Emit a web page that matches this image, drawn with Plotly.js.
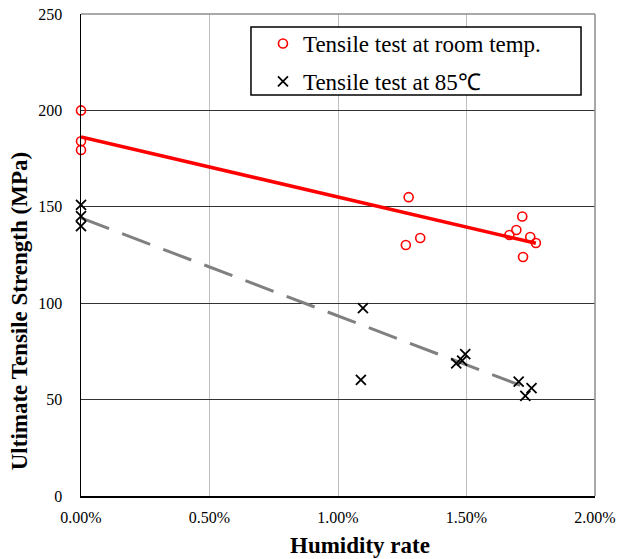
<!DOCTYPE html>
<html>
<head>
<meta charset="utf-8">
<script src="https://cdn.plot.ly/plotly-3.0.1.min.js"></script>
<style>html,body{margin:0;padding:0;background:#fff;}#chart{width:629px;height:559px;}</style>
</head>
<body>
<div id="chart"></div>
<script>
// Humidity rate (fraction) and strength (MPa)
const roomX = [0, 0, 0, 0.01264, 0.01275, 0.0132, 0.01667, 0.01694, 0.01717, 0.0172, 0.01748, 0.0177];
const roomY = [200, 184, 179.5, 130.2, 155, 133.8, 135.4, 138, 145, 124, 134.3, 131.2];
const hotX = [0, 0, 0, 0.01089, 0.01097, 0.0146, 0.01483, 0.01495, 0.01703, 0.01729, 0.01753];
const hotY = [151, 145.2, 140, 60.2, 97.5, 68.8, 70.2, 73.6, 59.3, 51.9, 55.9];
const roomTrendX = [0, 0.0177];
const roomTrendY = [186.2, 131.1];
const hotTrendX = [0, 0.0175];
const hotTrendY = [144.2, 55.3];
const xTickVals = [0, 0.005, 0.01, 0.015, 0.02];
const xTickText = ['0.00%', '0.50%', '1.00%', '1.50%', '2.00%'];
const yTickVals = [0, 50, 100, 150, 200, 250];

const serif = 'Liberation Serif, Times New Roman, serif';

const traces = [
  {x: roomTrendX, y: roomTrendY, mode: 'lines', line: {color: '#ff0000', width: 3.5}, showlegend: false, hoverinfo: 'skip', cliponaxis: false},
  {x: hotTrendX, y: hotTrendY, mode: 'lines', line: {color: '#808080', width: 3, dash: '30px,14px'}, showlegend: false, hoverinfo: 'skip', cliponaxis: false},
  {x: roomX, y: roomY, mode: 'markers', name: 'Tensile test at room temp.', cliponaxis: false,
   marker: {symbol: 'circle-open', size: 9, color: '#ff0000', line: {width: 1.6, color: '#ff0000'}}, legendgroup: 'a'},
  {x: hotX, y: hotY, mode: 'markers', name: 'Tensile test at 85℃', cliponaxis: false,
   marker: {symbol: 'x-thin-open', size: 10, color: '#000000', line: {width: 1.8, color: '#000000'}}, legendgroup: 'b'}
];

const layout = {
  width: 629, height: 559,
  margin: {l: 81, r: 34, t: 14, b: 63},
  paper_bgcolor: '#ffffff', plot_bgcolor: '#ffffff',
  font: {family: serif, color: '#000'},
  showlegend: true,
  legend: {x: 0.354, y: 0.9834, xanchor: 'left', yanchor: 'top', bgcolor: 'rgba(0,0,0,0)',
    borderwidth: 0, font: {family: serif, size: 23, color: '#000'},
    tracegroupgap: 5, itemwidth: 30},
  xaxis: {range: [0, 0.02], tickvals: xTickVals, ticktext: xTickText, showgrid: true,
    gridcolor: '#bfbfbf', gridwidth: 1, zeroline: false, showline: true, linecolor: '#000', linewidth: 1.5,
    ticks: '', tickfont: {family: serif, size: 16, color: '#000'}, ticklabelstandoff: 6},
  yaxis: {range: [0, 250], tickvals: yTickVals, showgrid: true, gridcolor: '#333333', gridwidth: 1,
    zeroline: false, showline: true, linecolor: '#000', linewidth: 1.5, ticks: '',
    tickfont: {family: serif, size: 16, color: '#000'}, ticklabelstandoff: 14},
  shapes: [
    {type: 'line', xref: 'paper', yref: 'paper', x0: 0, x1: 1, y0: 1, y1: 1, line: {color: '#8c8c8c', width: 1.5}},
    {type: 'line', xref: 'paper', yref: 'paper', x0: 1, x1: 1, y0: 0, y1: 1, line: {color: '#8c8c8c', width: 1.5}},
    {type: 'rect', xref: 'paper', yref: 'paper', x0: 0.3307, x1: 0.9728, y0: 0.832, y1: 0.973,
     fillcolor: '#ffffff', line: {color: '#000000', width: 1.5}, layer: 'above'}
  ],
  annotations: [
    {text: '<b>Humidity rate</b>', xref: 'paper', yref: 'paper', x: 0.543, y: -0.1017,
     xanchor: 'center', yanchor: 'middle', showarrow: false, font: {family: serif, size: 23, color: '#000'}},
    {text: '<b>Ultimate Tensile Strength (MPa)</b>', xref: 'paper', yref: 'paper', x: -0.118, y: 0.384,
     xanchor: 'center', yanchor: 'middle', textangle: -90, showarrow: false, font: {family: serif, size: 23, color: '#000'}}
  ]
};

Plotly.newPlot('chart', traces, layout, {staticPlot: true, displayModeBar: false});
</script>
</body>
</html>
